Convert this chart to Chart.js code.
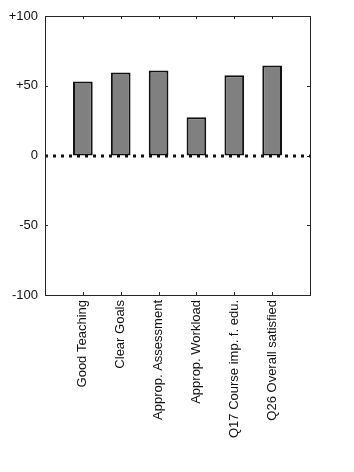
<!DOCTYPE html>
<html>
<head>
<meta charset="utf-8">
<script src="https://cdn.jsdelivr.net/npm/chart.js@4/dist/chart.umd.min.js"></script>
<style>
    html, body { margin: 0; padding: 0; background: #fff; }
    #wrap { width: 354px; height: 472px; }
</style>
</head>
<body>
<div id="wrap"><canvas id="chart" width="354" height="472"></canvas></div>
<script>
// chart data
const categories = ['Good Teaching', 'Clear Goals', 'Approp. Assessment', 'Approp. Workload', 'Q17 Course imp. f. edu.', 'Q26 Overall satisfied'];
const scores = [53, 59.5, 61, 27.5, 57.5, 64.5];
const yTicks = [-100, -50, 0, 50, 100];
const yTickLabels = ['-100', '-50', '0', '+50', '+100'];

// empty slot on each side, like the original axis
const labels = [''].concat(categories, ['']);
const values = [null].concat(scores, [null]);

const axisColor = '#262626';

/**
 * Box outline, inward ticks and dotted zero line
 */
const framePlugin = {
    id: 'frame',
    afterDatasetsDraw(chart) {
        const ctx = chart.ctx;
        const a = chart.chartArea;
        const x = chart.scales.x;
        const y = chart.scales.y;
        ctx.save();

        // zero line
        const y0 = Math.round(y.getPixelForValue(0));
        ctx.strokeStyle = '#111';
        ctx.lineWidth = 3;
        ctx.setLineDash([3, 5]);
        ctx.beginPath();
        ctx.moveTo(a.left, y0);
        ctx.lineTo(a.right, y0);
        ctx.stroke();
        ctx.setLineDash([]);

        // box
        ctx.strokeStyle = axisColor;
        ctx.lineWidth = 1;
        ctx.strokeRect(a.left + 0.5, a.top + 0.5, a.right - a.left, a.bottom - a.top);

        // ticks pointing inside
        ctx.beginPath();
        for (let i = 1; i <= categories.length; i++) {
            const px = Math.round(x.getPixelForValue(i)) + 0.5;
            ctx.moveTo(px, a.bottom); ctx.lineTo(px, a.bottom - 3);
            ctx.moveTo(px, a.top); ctx.lineTo(px, a.top + 3);
        }
        yTicks.forEach(v => {
            const py = Math.round(y.getPixelForValue(v)) + 0.5;
            ctx.moveTo(a.left, py); ctx.lineTo(a.left + 3, py);
            ctx.moveTo(a.right, py); ctx.lineTo(a.right - 3, py);
        });
        ctx.stroke();
        ctx.restore();
    }
};

const ctx = document.getElementById('chart').getContext('2d');

new Chart(ctx, {
    type: 'bar',
    data: {
        labels: labels,
        datasets: [{
            data: values,
            backgroundColor: '#808080',
            borderColor: '#111',
            borderWidth: 2,
            borderSkipped: false,
            barPercentage: 0.52,
            categoryPercentage: 1
        }]
    },
    options: {
        responsive: false,
        animation: false,
        layout: {
            padding: { top: 16, right: 44, bottom: 0, left: 0 }
        },
        plugins: {
            legend: { display: false },
            tooltip: { enabled: false }
        },
        scales: {
            x: {
                offset: false,
                grid: { display: false, drawTicks: false },
                border: { display: false },
                ticks: {
                    autoSkip: false,
                    minRotation: 90,
                    maxRotation: 90,
                    padding: 5,
                    color: '#111',
                    font: { family: 'Liberation Sans', size: 13 }
                },
                afterFit(scale) { scale.height = 177; }
            },
            y: {
                min: -100,
                max: 100,
                grid: { display: false, drawTicks: false },
                border: { display: false },
                afterBuildTicks(scale) {
                    scale.ticks = yTicks.map(v => ({ value: v }));
                },
                ticks: {
                    padding: 7,
                    color: '#111',
                    font: { family: 'Liberation Sans', size: 13 },
                    callback: (v) => yTickLabels[yTicks.indexOf(v)]
                },
                afterFit(scale) { scale.width = 45; }
            }
        }
    },
    plugins: [framePlugin]
});
</script>
</body>
</html>
